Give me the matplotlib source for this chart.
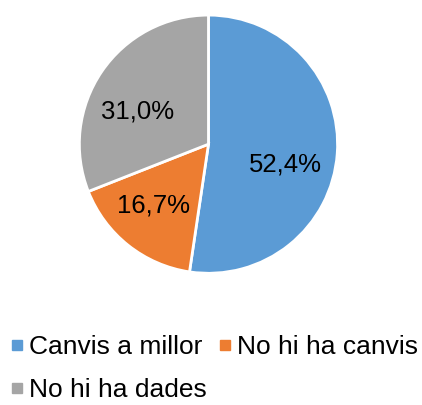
import matplotlib.pyplot as plt
from matplotlib.lines import Line2D

plt.rcParams['font.family'] = ['Liberation Sans', 'DejaVu Sans']

categories = ['Canvis a millor', 'No hi ha canvis', 'No hi ha dades']
values = [52.4, 16.7, 31.0]
colors = ['#5B9BD5', '#ED7D31', '#A5A5A5']

total = sum(values)

def fmt(p):
    return ('%.1f%%' % (p * total / 100)).replace('.', ',')

fig = plt.figure(figsize=(4.22, 4.05), dpi=100)
ax = fig.add_axes([0.494 - 0.309, 0.644 - 0.322, 0.618, 0.644])
wedges, texts, autotexts = ax.pie(values, colors=colors, startangle=90, counterclock=False,
                                  autopct=fmt, pctdistance=0.63,
                                  wedgeprops={'edgecolor': 'white', 'linewidth': 2},
                                  textprops={'fontsize': 18.5, 'color': 'black'})
ax.set_xlim(-1.01, 1.01)
ax.set_ylim(-1.01, 1.01)
ax.set_aspect('equal')

# small nudges so the percent labels sit like Excel's best-fit placement
nudges = [(-0.03, -0.11), (-0.035, 0.015), (-0.03, -0.105)]
for t, (dx, dy) in zip(autotexts, nudges):
    x, y = t.get_position()
    t.set_position((x + dx, y + dy))

# row-major order in two columns: legend fills column by column
order = [0, 2, 1]
handles = [Line2D([], [], marker='s', linestyle='none', markersize=6.5,
                  markerfacecolor=colors[i], markeredgecolor=colors[i]) for i in order]
labels = [categories[i] for i in order]
fig.legend(handles, labels, ncol=2, loc='upper left', bbox_to_anchor=(0.025, 0.172),
           frameon=False, fontsize=19, handlelength=0.5, handletextpad=0.2,
           columnspacing=0.45, labelspacing=0.72, borderpad=0, borderaxespad=0)

fig.savefig('out.png', dpi=100)
